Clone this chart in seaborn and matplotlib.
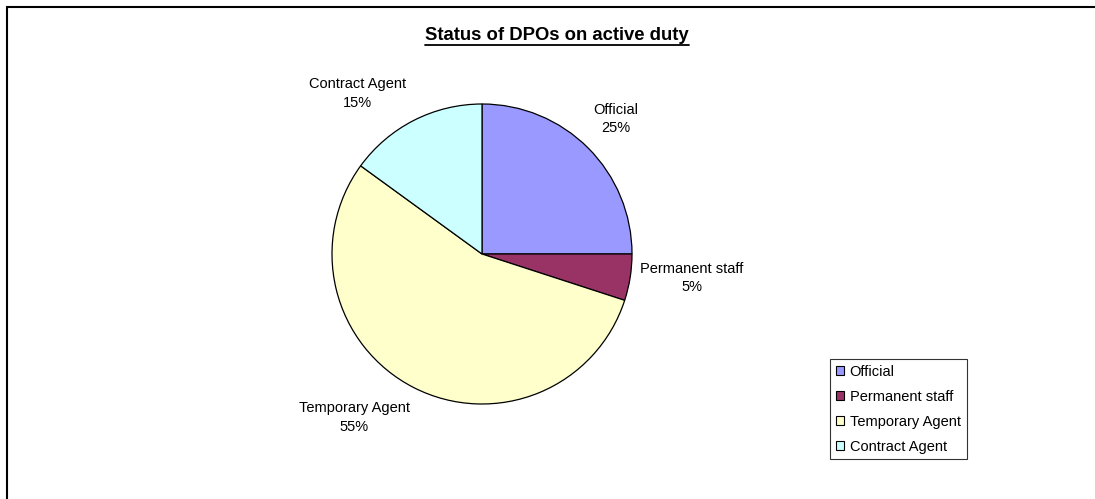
import matplotlib
matplotlib.use('Agg')
import matplotlib.pyplot as plt
import seaborn as sns
from matplotlib.patches import Rectangle, Patch
from matplotlib.lines import Line2D

# datos del gráfico
categorias = ['Official', 'Permanent staff', 'Temporary Agent', 'Contract Agent']
porcentajes = [25, 5, 55, 15]
colores = ['#9999FF', '#993366', '#FFFFCC', '#CCFFFF']
titulo = 'Status of DPOs on active duty'

# posiciones de las etiquetas (en unidades del radio)
pos_etiquetas = [(0.89, 0.90), (1.40, -0.16), (-0.85, -1.09), (-0.83, 1.07)]

sns.set_style('white')
plt.rcParams['font.family'] = ['Liberation Sans', 'DejaVu Sans']
plt.rcParams['text.color'] = 'black'

W, H = 1095, 499
fig = plt.figure(figsize=(W / 100, H / 100), dpi=100)

# marco exterior
fig.patches.append(Rectangle((7 / W, -0.1), 1.2, 1.1 - 7 / H, transform=fig.transFigure,
                             fill=False, edgecolor='black', linewidth=1.5))

cx, cy, r = 482, 254, 150
ax = fig.add_axes([(cx - r) / W, (H - cy - r) / H, 2 * r / W, 2 * r / H])
wedges, textos = ax.pie(porcentajes, colors=colores, startangle=90, counterclock=False,
                        labels=[f'{c}\n{p}%' for c, p in zip(categorias, porcentajes)],
                        wedgeprops=dict(edgecolor='black', linewidth=0.9),
                        textprops=dict(fontsize=10.5, ha='center', va='center', color='black'))
for t, p in zip(textos, pos_etiquetas):
    t.set_position(p)
    t.set_horizontalalignment('center')
    t.set_verticalalignment('center')
    t.set_multialignment('center')
    t.set_linespacing(1.45)
ax.set_xlim(-1, 1)
ax.set_ylim(-1, 1)

# título subrayado
tt = fig.text(557 / W, 1 - 35 / H, titulo, ha='center', va='center',
              fontsize=13.3, fontweight='bold', color='black')
fig.canvas.draw()
bb = tt.get_window_extent()
yl = 1 - 45 / H
fig.add_artist(Line2D([bb.x0 / W, bb.x1 / W], [yl, yl], transform=fig.transFigure,
                      color='black', linewidth=1.3))

# leyenda
handles = [Patch(facecolor=c, edgecolor='black', linewidth=0.8) for c in colores]
leg = fig.legend(handles, categorias, loc='upper left',
                 bbox_to_anchor=(830 / W, 1 - 359 / H), fontsize=10.5,
                 frameon=True, fancybox=False, edgecolor='black',
                 handlelength=0.55, handleheight=0.55, handletextpad=0.4,
                 labelspacing=0.75, borderpad=0.4, borderaxespad=0)
leg.get_frame().set_linewidth(0.8)
for t in leg.get_texts():
    t.set_color('black')

fig.savefig('out.png', dpi=100, facecolor='white')
